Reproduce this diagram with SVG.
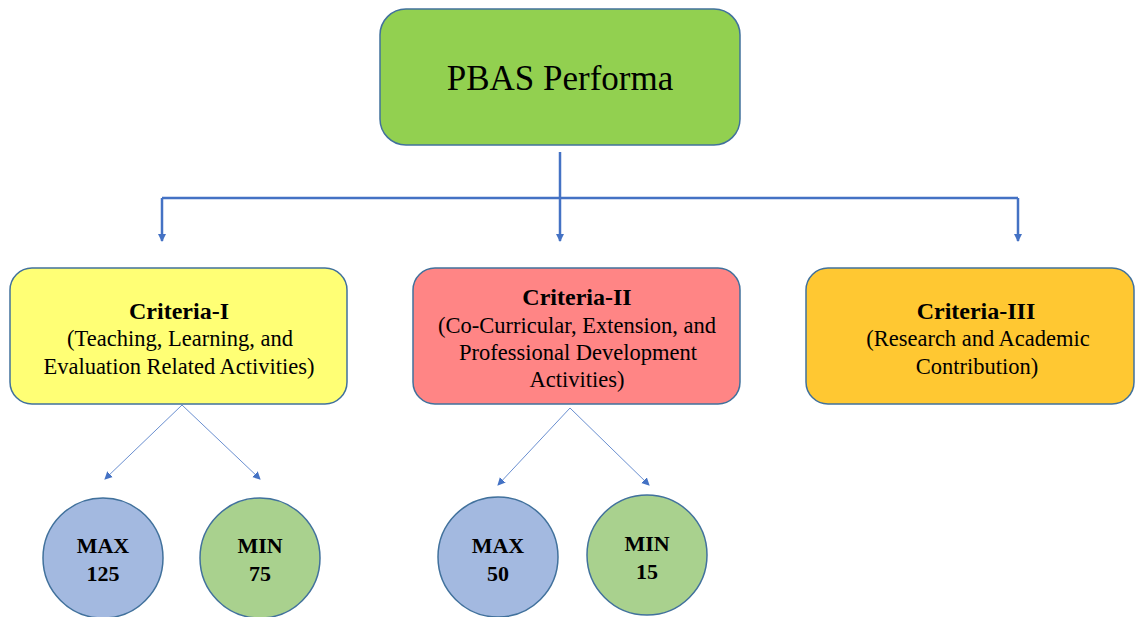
<svg xmlns="http://www.w3.org/2000/svg" width="1135" height="617" viewBox="0 0 1135 617">
<defs>
<marker id="ah" markerWidth="10" markerHeight="10" refX="7" refY="5" orient="auto" markerUnits="userSpaceOnUse">
<path d="M0,1 L8,5 L0,9 Z" fill="#4472C4"/>
</marker>
<style>
.box{stroke:#41719C;stroke-width:1.5}
.t{font-family:"Liberation Serif","Times New Roman",serif;fill:#000;text-anchor:middle}
.b{font-weight:bold}
.r{font-size:22.5px}
.h{font-size:24px;font-weight:bold}
.c{font-size:22px;font-weight:bold}
.main{stroke:#4472C4;stroke-width:2.5;fill:none}
.thin{stroke:#6A8FD0;stroke-width:1;fill:none}
</style>
</defs>
<rect width="1135" height="617" fill="#fff"/>
<g id="connectors">
<path class="main" d="M560,152 V198"/>
<path class="main" d="M162,198 H1018"/>
<path class="main" d="M162,198 V241" marker-end="url(#ah)"/>
<path class="main" d="M560,198 V241" marker-end="url(#ah)"/>
<path class="main" d="M1018,198 V241" marker-end="url(#ah)"/>
<path class="thin" d="M182,405 L105,479" marker-end="url(#ah)"/>
<path class="thin" d="M182,405 L260,479" marker-end="url(#ah)"/>
<path class="thin" d="M570,408 L498,485" marker-end="url(#ah)"/>
<path class="thin" d="M570,408 L649,485" marker-end="url(#ah)"/>
</g>
<g id="pbas">
<rect class="box" x="380" y="9" width="360" height="136" rx="26" fill="#92D050"/>
<text class="t" x="560" y="90" font-size="35">PBAS Performa</text>
</g>
<g id="criteria1">
<rect class="box" x="10" y="268" width="337" height="136" rx="22" fill="#FFFF75"/>
<text class="t h" x="179" y="319">Criteria-I</text>
<text class="t r" x="180" y="346">(Teaching, Learning, and</text>
<text class="t r" x="179" y="374">Evaluation Related Activities)</text>
</g>
<g id="criteria2">
<rect class="box" x="413" y="268" width="327" height="136" rx="22" fill="#FF8585"/>
<text class="t h" x="577" y="305">Criteria-II</text>
<text class="t r" x="577" y="333">(Co-Curricular, Extension, and</text>
<text class="t r" x="578" y="360">Professional Development</text>
<text class="t r" x="577" y="387">Activities)</text>
</g>
<g id="criteria3">
<rect class="box" x="806" y="268" width="328" height="136" rx="22" fill="#FFC832"/>
<text class="t h" x="976" y="319">Criteria-III</text>
<text class="t r" x="978" y="346">(Research and Academic</text>
<text class="t r" x="977" y="374">Contribution)</text>
</g>
<g id="max1">
<circle class="box" cx="103" cy="558" r="60" fill="#A3B9E0"/>
<text class="t c" x="103" y="553">MAX</text>
<text class="t c" x="103" y="581">125</text>
</g>
<g id="min1">
<circle class="box" cx="260" cy="558" r="60" fill="#A9D18E"/>
<text class="t c" x="260" y="553">MIN</text>
<text class="t c" x="260" y="581">75</text>
</g>
<g id="max2">
<circle class="box" cx="498" cy="557" r="60" fill="#A3B9E0"/>
<text class="t c" x="498" y="553">MAX</text>
<text class="t c" x="498" y="581">50</text>
</g>
<g id="min2">
<circle class="box" cx="647" cy="555" r="60" fill="#A9D18E"/>
<text class="t c" x="647" y="551">MIN</text>
<text class="t c" x="647" y="579">15</text>
</g>
</svg>
